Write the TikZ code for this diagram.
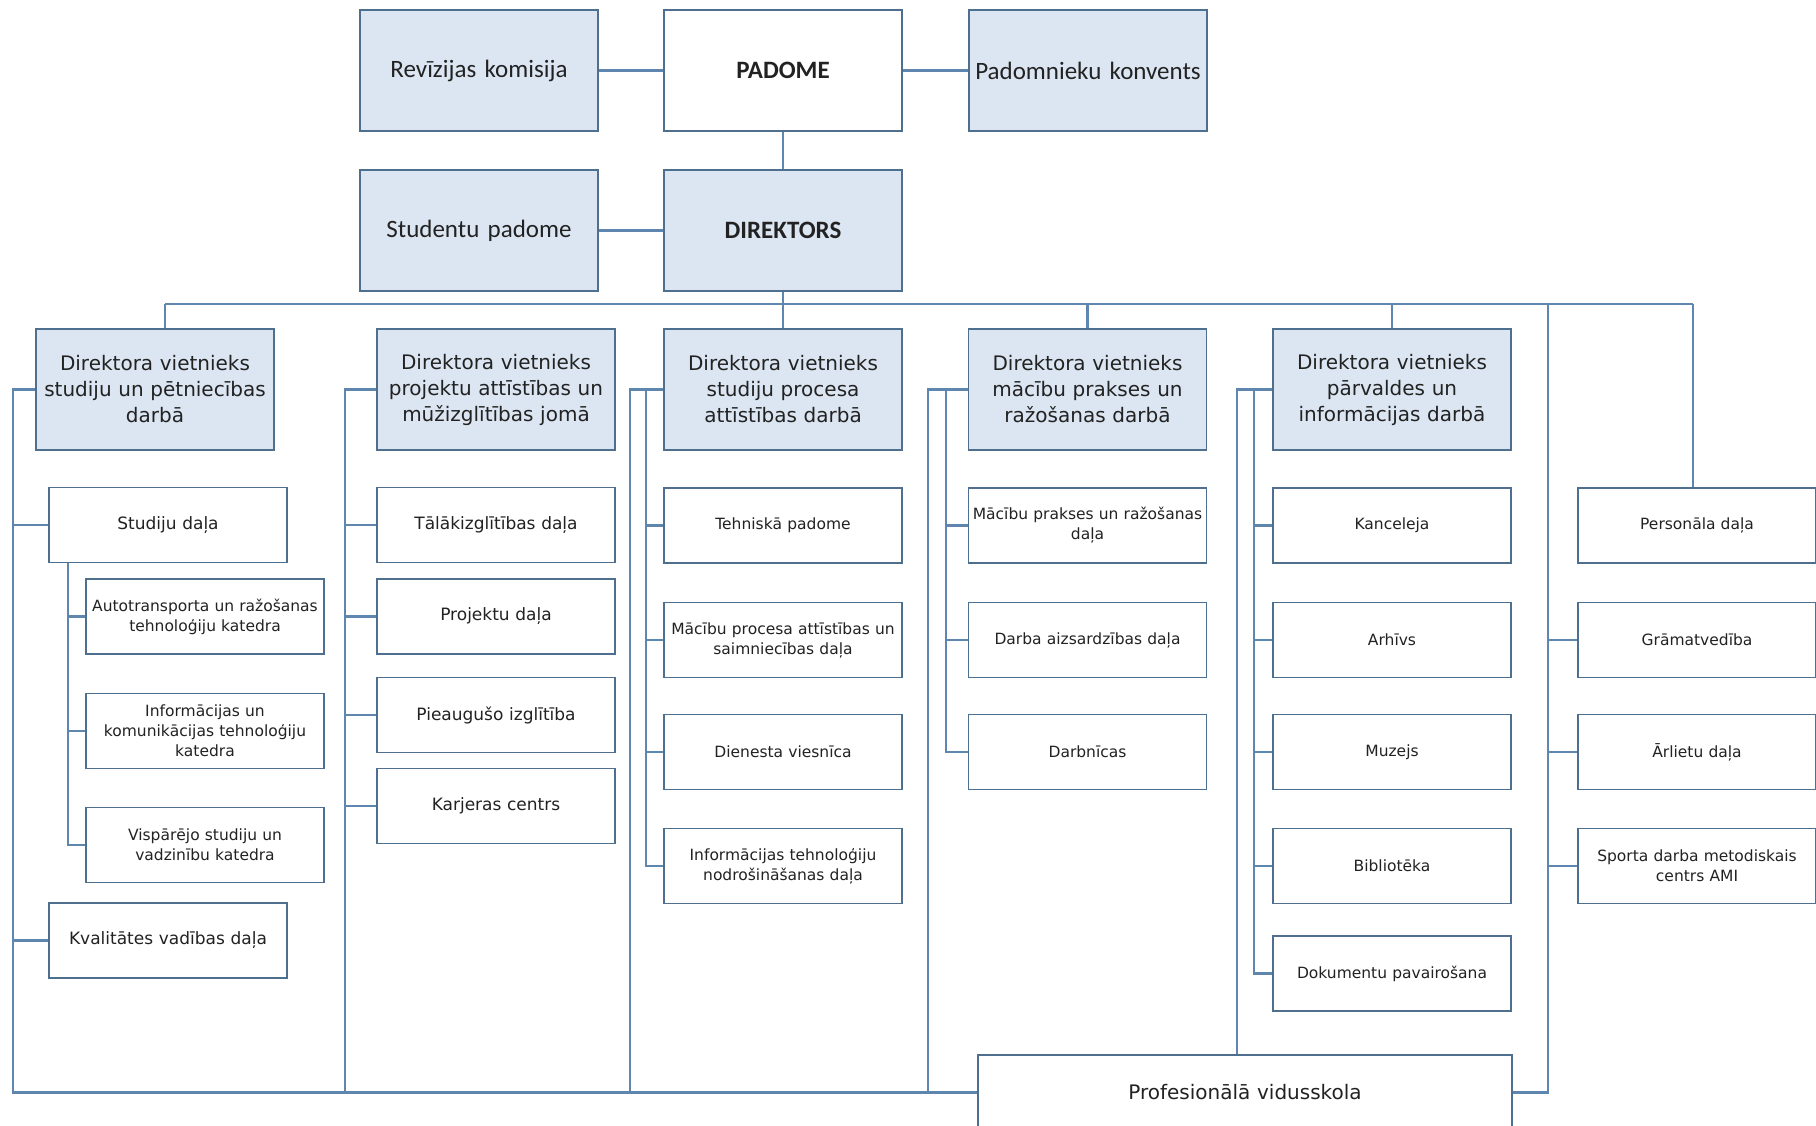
\documentclass[tikz,border=0pt]{standalone}
\usepackage{fontspec}
\setmainfont{DejaVu Sans}
\newfontfamily\topfont{Carlito}
\usepackage{xcolor}
\usetikzlibrary{positioning,calc}

\definecolor{edge}{HTML}{4F6F8F}
\definecolor{wire}{HTML}{5E86AE}
\definecolor{pale}{HTML}{DCE6F2}
\definecolor{ink}{HTML}{222222}

\tikzset{
  box/.style={draw=edge, line width=1.4pt, minimum width=238pt, text width=234pt, align=center, inner sep=0pt, text=ink},
  topbox/.style={box, minimum height=121pt, font=\topfont\fontsize{25}{30}\selectfont},
  vboss/.style={box, fill=pale, minimum height=121pt, font=\fontsize{20}{26}\selectfont},
  unit/.style={box, fill=white, minimum height=75pt, font=\fontsize{15.5}{20}\selectfont},
  bigunit/.style={unit, font=\fontsize{17}{21}\selectfont},
  link/.style={draw=wire, line width=2.2pt}
}

\begin{document}
\begin{tikzpicture}[x=1pt,y=-1pt]
\useasboundingbox[fill=white] (0,0) rectangle (1816,1126);

\node[topbox, fill=pale] (rev) at (479,70.5) {Revīzijas komisija};
\node[topbox, fill=white] (pad) at (783,70.5) {\textbf{PADOME}};
\node[topbox, fill=pale] (konv) at (1088,70.5) {Padomnieku konvents};
\node[topbox, fill=pale] (stud) at (479,230.5) {Studentu padome};
\node[topbox, fill=pale] (dir) at (783,230.5) {\textbf{DIREKTORS}};

\node[vboss] (dep1) at (155,389.5) {Direktora vietnieks\\studiju un pētniecības\\darbā};
\node[vboss] (dep2) at (496,389.5) {Direktora vietnieks\\projektu attīstības un\\mūžizglītības jomā};
\node[vboss] (dep3) at (783,389.5) {Direktora vietnieks\\studiju procesa\\attīstības darbā};
\node[vboss] (dep4) at (1087.5,389.5) {Direktora vietnieks\\mācību prakses un\\ražošanas darbā};
\node[vboss] (dep5) at (1392,389.5) {Direktora vietnieks\\pārvaldes un\\informācijas darbā};

\node[bigunit] (sd) at (168,525) {Studiju daļa};
\node[unit] (k1) at (205,616.5) {Autotransporta un ražošanas\\tehnoloģiju katedra};
\node[unit] (k2) at (205,731) {Informācijas un\\komunikācijas tehnoloģiju\\katedra};
\node[unit] (k3) at (205,845) {Vispārējo studiju un\\vadzinību katedra};
\node[bigunit] (kval) at (168,940.5) {Kvalitātes vadības daļa};

\node[bigunit] (tal) at (496,525) {Tālākizglītības daļa};
\node[bigunit] (proj) at (496,616.5) {Projektu daļa};
\node[bigunit] (piea) at (496,715) {Pieaugušo izglītība};
\node[bigunit] (karj) at (496,806) {Karjeras centrs};

\node[unit] (tp) at (783,525.5) {Tehniskā padome};
\node[unit] (mpa) at (783,640) {Mācību procesa attīstības un\\saimniecības daļa};
\node[unit] (dv) at (783,752) {Dienesta viesnīca};
\node[unit] (itn) at (783,866) {Informācijas tehnoloģiju\\nodrošināšanas daļa};

\node[unit] (mpr) at (1087.5,525.5) {Mācību prakses un ražošanas\\daļa};
\node[unit] (daz) at (1087.5,640) {Darba aizsardzības daļa};
\node[unit] (darbn) at (1087.5,752) {Darbnīcas};

\node[unit] (kanc) at (1392,525.5) {Kanceleja};
\node[unit] (arh) at (1392,640) {Arhīvs};
\node[unit] (muz) at (1392,752) {Muzejs};
\node[unit] (bib) at (1392,866) {Bibliotēka};
\node[unit] (dok) at (1392,973.5) {Dokumentu pavairošana};

\node[unit] (pers) at (1697,525.5) {Personāla daļa};
\node[unit] (gram) at (1697,640) {Grāmatvedība};
\node[unit] (arl) at (1697,752) {Ārlietu daļa};
\node[unit] (sport) at (1697,866) {Sporta darba metodiskais\\centrs AMI};

\node[box, fill=white, minimum width=534pt, text width=520pt, minimum height=75pt, font=\fontsize{20}{24}\selectfont] (prof) at (1245,1092.5) {Profesionālā vidusskola};

% top
\draw[link] (rev) -- (pad);
\draw[link] (pad) -- (konv);
\draw[link] (stud) -- (dir);
\draw[link] (pad) -- (dir);

% bus
\coordinate (busL) at (165,304);
\coordinate (busR) at (1693,304);
\draw[link] (dir.south) -- (dir.south |- busL);
\draw[link] (busL) -- (busR);
\draw[link] (busL) -- (busL |- dep1.north);
\foreach \n in {dep3,dep4,dep5} \draw[link] (\n |- busL) -- (\n);
\draw[link] (busR) -- (busR |- pers.north);

% col 1
\coordinate (s1) at (13,0);
\coordinate (t1) at (68,0);
\draw[link] (dep1.west) -| (s1 |- prof.west) -- (prof.west);
\foreach \n in {sd,kval} \draw[link] (s1 |- \n) -- (\n);
\draw[link] (t1 |- sd.south) |- (k3);
\foreach \n in {k1,k2} \draw[link] (t1 |- \n) -- (\n);

% col 2
\coordinate (s2) at (345,0);
\draw[link] (dep2.west) -| (s2 |- prof.west);
\foreach \n in {tal,proj,piea,karj} \draw[link] (s2 |- \n) -- (\n);

% col 3
\coordinate (o3) at (630,0);
\coordinate (i3) at (646,0);
\draw[link] (dep3.west) -| (o3 |- prof.west);
\draw[link] (i3 |- dep3.west) |- (itn);
\foreach \n in {tp,mpa,dv} \draw[link] (i3 |- \n) -- (\n);

% col 4
\coordinate (o4) at (928,0);
\coordinate (i4) at (946,0);
\draw[link] (dep4.west) -| (o4 |- prof.west);
\draw[link] (i4 |- dep4.west) |- (darbn);
\foreach \n in {mpr,daz} \draw[link] (i4 |- \n) -- (\n);

% col 5
\coordinate (o5) at (1237,0);
\coordinate (i5) at (1254,0);
\draw[link] (dep5.west) -| (o5 |- prof.north);
\draw[link] (i5 |- dep5.west) |- (dok);
\foreach \n in {kanc,arh,muz,bib} \draw[link] (i5 |- \n) -- (\n);

% col 6
\coordinate (s6) at (1548,304);
\draw[link] (s6) |- (prof.east);
\foreach \n in {gram,arl,sport} \draw[link] (s6 |- \n) -- (\n);
\end{tikzpicture}
\end{document}
